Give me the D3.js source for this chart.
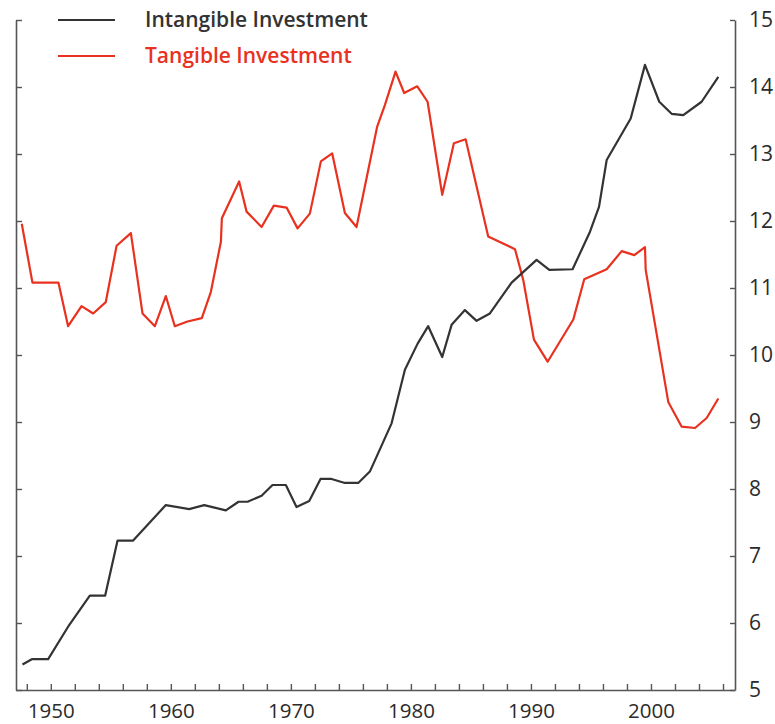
<!DOCTYPE html>
<html>
<head>
<meta charset="utf-8">
<script src="https://cdn.jsdelivr.net/npm/d3@7"></script>
<style>
  body { margin: 0; background: #fff; }
  svg { display: block; font-family: "Open Sans", sans-serif; }
</style>
</head>
<body>
<div id="container"></div>
<script>
let width = 775
let height = 724

margin = ({ top: 20, right: 40, bottom: 34, left: 16 })

// data (mid-year positions)
const tangibleYears = [1947.58, 1948.47, 1950.64, 1951.44, 1952.56, 1953.53, 1954.58, 1955.48, 1956.67, 1957.64,
    1958.67, 1959.58, 1960.33, 1961.39, 1962.58, 1963.33, 1964.17, 1964.25, 1965.69, 1966.31,
    1967.56, 1968.58, 1969.64, 1970.56, 1971.58, 1972.5, 1973.44, 1974.5, 1975.47, 1977.19,
    1977.83, 1978.72, 1979.44, 1980.53, 1981.39, 1982.61, 1983.58, 1984.56, 1986.44, 1988.67,
    1989.36, 1990.25, 1991.39, 1993.53, 1994.44, 1996.31, 1997.56, 1998.61, 1999.5, 1999.56,
    2001.44, 2002.56, 2003.67, 2004.64, 2005.61]
const tangible = [11.96, 11.08, 11.08, 10.43, 10.73, 10.62, 10.79, 11.63, 11.82, 10.62,
    10.43, 10.88, 10.43, 10.50, 10.55, 10.94, 11.69, 12.04, 12.59, 12.14,
    11.91, 12.23, 12.20, 11.89, 12.11, 12.89, 13.01, 12.12, 11.91, 13.41,
    13.73, 14.23, 13.91, 14.01, 13.78, 12.39, 13.16, 13.22, 11.77, 11.58,
    11.12, 10.23, 9.90, 10.53, 11.13, 11.28, 11.55, 11.49, 11.61, 11.27,
    9.30, 8.93, 8.91, 9.06, 9.35]

const intangibleYears = [1947.64, 1948.42, 1949.78, 1951.53, 1953.25, 1954.53, 1955.56, 1956.86, 1959.58, 1961.53,
    1962.78, 1964.58, 1965.64, 1966.39, 1967.56, 1968.47, 1969.58, 1970.47, 1971.53, 1972.47,
    1973.39, 1974.5, 1975.61, 1976.58, 1978.39, 1979.5, 1980.56, 1981.44, 1982.61, 1983.39,
    1984.5, 1985.47, 1986.58, 1988.39, 1990.47, 1991.53, 1993.47, 1994.92, 1995.67, 1996.31,
    1998.31, 1999.5, 2000.69, 2001.72, 2002.69, 2004.22, 2005.61]
const intangible = [5.38, 5.46, 5.46, 5.97, 6.41, 6.41, 7.23, 7.23, 7.76, 7.70,
    7.76, 7.68, 7.81, 7.81, 7.90, 8.06, 8.06, 7.73, 7.82, 8.15,
    8.15, 8.09, 8.09, 8.26, 8.98, 9.78, 10.17, 10.43, 9.97, 10.45,
    10.67, 10.51, 10.62, 11.08, 11.42, 11.27, 11.28, 11.84, 12.21, 12.91,
    13.53, 14.33, 13.78, 13.60, 13.58, 13.78, 14.15]

const yTicks = d3.range(5, 16)
const xTicks = d3.range(1948, 2007, 2)
const xLabels = [1950, 1960, 1970, 1980, 1990, 2000]

const seriesNames = ["Intangible Investment", "Tangible Investment"]
const colors = ["#333333", "#e8321f"]

const tangibleData = tangibleYears.map((d, i) => ({ year: d, value: tangible[i] }))
const intangibleData = intangibleYears.map((d, i) => ({ year: d, value: intangible[i] }))

let x = d3.scaleLinear()
    .domain([1947.1, 2007])
    .range([margin.left, width - margin.right])

let y = d3.scaleLinear()
    .domain([5, 15])
    .range([height - margin.bottom, margin.top])

let line = d3.line()
    .x(d => x(d.year))
    .y(d => y(d.value))

let svg = d3.select("#container")
    .append("svg")
    .attr("width", width)
    .attr("height", height)
    .attr("viewBox", [0, 0, width, height])

const axisColor = "#555"

// bottom axis, ticks pointing up
let xAxis = g => g
    .attr("transform", `translate(0,${height - margin.bottom})`)
    .call(d3.axisBottom(x).tickValues(xTicks).tickSize(-6).tickSizeOuter(0).tickPadding(13)
        .tickFormat(d => xLabels.includes(d) ? d : ""))
    .call(g => g.select(".domain").attr("stroke", axisColor).attr("stroke-width", 1.6))
    .call(g => g.selectAll(".tick line").attr("stroke", axisColor).attr("stroke-width", 1.4))
    .call(g => g.selectAll(".tick text").attr("fill", "#2b2b2b").attr("font-size", 20.5)
        .attr("font-family", "Open Sans, sans-serif"))

// right axis with labels
let yAxis = g => g
    .attr("transform", `translate(${width - margin.right},0)`)
    .call(d3.axisRight(y).tickValues(yTicks).tickSize(-5).tickSizeOuter(0).tickPadding(14))
    .call(g => g.select(".domain").attr("stroke", axisColor).attr("stroke-width", 1.6))
    .call(g => g.selectAll(".tick line").attr("stroke", axisColor).attr("stroke-width", 1.4))
    .call(g => g.selectAll(".tick text").attr("fill", "#2b2b2b").attr("font-size", 21)
        .attr("font-family", "Open Sans, sans-serif"))

// left axis, ticks only
let yAxisLeft = g => g
    .attr("transform", `translate(${margin.left},0)`)
    .call(d3.axisLeft(y).tickValues(yTicks).tickSize(-6).tickSizeOuter(0).tickFormat(""))
    .call(g => g.select(".domain").attr("stroke", axisColor).attr("stroke-width", 1.6))
    .call(g => g.selectAll(".tick line").attr("stroke", axisColor).attr("stroke-width", 1.4))

svg.append("g").call(xAxis)
svg.append("g").call(yAxis)
svg.append("g").call(yAxisLeft)

svg.append("path")
    .datum(tangibleData)
    .attr("fill", "none")
    .attr("stroke", colors[1])
    .attr("stroke-width", 2.2)
    .attr("stroke-linejoin", "round")
    .attr("d", line)

svg.append("path")
    .datum(intangibleData)
    .attr("fill", "none")
    .attr("stroke", colors[0])
    .attr("stroke-width", 2.2)
    .attr("stroke-linejoin", "round")
    .attr("d", line)

// legend
const legend = svg.append("g")
    .selectAll("g")
    .data(seriesNames)
    .join("g")
    .attr("transform", (d, i) => `translate(58,${20 + i * 36})`)

legend.append("line")
    .attr("x1", 0)
    .attr("x2", 57)
    .attr("stroke", (d, i) => colors[i])
    .attr("stroke-width", 2.2)

legend.append("text")
    .attr("x", 87)
    .attr("y", 7)
    .attr("fill", (d, i) => colors[i])
    .attr("font-size", 21)
    .attr("font-weight", 600)
    .text(d => d)
</script>
</body>
</html>
